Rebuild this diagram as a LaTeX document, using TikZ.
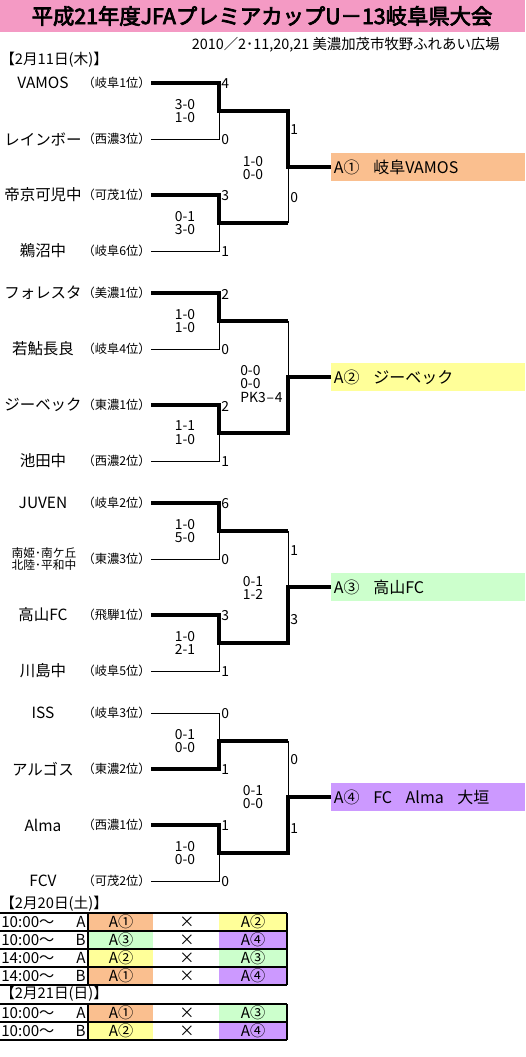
\documentclass[tikz,border=0pt]{standalone}
\usepackage{fontspec}
\setmainfont{Noto Sans CJK JP}
\newfontfamily\titlefont{Noto Sans CJK JP}[FakeBold=3.5]
\newcommand\fsz[1]{\fontsize{#1}{#1}\selectfont}
\definecolor{rosaband}{RGB}{244,154,196}
\definecolor{cOr}{RGB}{250,191,143}
\definecolor{cYe}{RGB}{255,255,153}
\definecolor{cGr}{RGB}{204,255,204}
\definecolor{cPu}{RGB}{204,153,255}
\tikzset{
  team/.style={font=\fsz{11.6}, inner sep=0pt},
  rank/.style={font=\fsz{9.2}, inner sep=0pt, anchor=east},
  goal/.style={font=\fsz{10.4}, inner sep=0pt, anchor=west},
  tally/.style={font=\fsz{10.4}, align=center, inner sep=0pt},
  win/.style={line width=2.5pt},
  lose/.style={line width=0.75pt},
  result/.style={anchor=west, minimum height=21pt, inner xsep=2pt, inner ysep=0pt,
    text width=141.5pt, align=left, font=\fsz{12}},
  day/.style={font=\fsz{11}, inner sep=0pt, anchor=west},
  cell/.style={font=\fsz{11.4}, inner sep=0pt},
  rule/.style={line width=0.9pt},
}
\begin{document}
\begin{tikzpicture}[x=0.75pt, y=-0.75pt]
  \useasboundingbox (0,0) rectangle (525,1057);
  % title band
  \fill[rosaband] (0,0) rectangle (525,32);
  \node[font=\titlefont\fsz{16}, inner sep=0pt] (title) at (262,16) {平成21年度JFAプレミアカップU－13岐阜県大会};
  \node[font=\fsz{10.8}, inner sep=0pt, anchor=east] (place) at (500,45) {2010／2･11,20,21 美濃加茂市牧野ふれあい広場};
  \node[day] (d11) at (0,60) {【2月11日(木)】};

  % block A1
  \node[team] (n11) at (43,83) {VAMOS};
  \node[team] (n12) at (43,139) {レインボー};
  \node[team] (n13) at (43,195) {帝京可児中};
  \node[team] (n14) at (43,251) {鵜沼中};
  \node[rank] (r11) at (151,83) {（岐阜1位）};
  \node[rank] (r12) at (151,139) {（西濃3位）};
  \node[rank] (r13) at (151,195) {（可茂1位）};
  \node[rank] (r14) at (151,251) {（岐阜6位）};
  \coordinate (s1a) at (219,111); \coordinate (s1b) at (219,223);
  \coordinate (f1a) at (288,111); \coordinate (f1) at (288,167); \coordinate (f1b) at (288,223);
  \node[result, fill=cOr] (w1) at (331,167) {A①\hspace{0.85em}岐阜VAMOS};
  \draw[win] (r11.east) -| (s1a) -- (f1a) -- (f1) -- (w1.west);
  \draw[lose] (r12.east) -| (s1a);
  \draw[win] (r13.east) -| (s1b) -- (f1b);
  \draw[lose] (r14.east) -| (s1b);
  \draw[lose] (f1b) -- (f1);
  \node[goal] (g11) at (221,84) {4};
  \node[goal] (g12) at (221,140) {0};
  \node[goal] (g13) at (221,196) {3};
  \node[goal] (g14) at (221,252) {1};
  \node[goal] (g1a) at (290,130) {1};
  \node[goal] (g1b) at (290,198) {0};
  \node[tally] (t1a) at (185,111) {3-0\\1-0};
  \node[tally] (t1b) at (185,223) {0-1\\3-0};
  \node[tally] (t1f) at (253,168) {1-0\\0-0};

  % block A2
  \node[team] (n21) at (43,293) {フォレスタ};
  \node[team] (n22) at (43,349) {若鮎長良};
  \node[team] (n23) at (43,405) {ジーベック};
  \node[team] (n24) at (43,461) {池田中};
  \node[rank] (r21) at (151,293) {（美濃1位）};
  \node[rank] (r22) at (151,349) {（岐阜4位）};
  \node[rank] (r23) at (151,405) {（東濃1位）};
  \node[rank] (r24) at (151,461) {（西濃2位）};
  \coordinate (s2a) at (219,321); \coordinate (s2b) at (219,433);
  \coordinate (f2a) at (288,321); \coordinate (f2) at (288,377); \coordinate (f2b) at (288,433);
  \node[result, fill=cYe] (w2) at (331,377) {A②\hspace{0.85em}ジーベック};
  \draw[win] (r21.east) -| (s2a) -- (f2a);
  \draw[lose] (r22.east) -| (s2a);
  \draw[win] (r23.east) -| (s2b) -- (f2b) -- (f2) -- (w2.west);
  \draw[lose] (r24.east) -| (s2b);
  \draw[lose] (f2a) -- (f2);
  \node[goal] (g21) at (221,294) {2};
  \node[goal] (g22) at (221,350) {0};
  \node[goal] (g23) at (221,406) {2};
  \node[goal] (g24) at (221,462) {1};
  \node[tally] (t2a) at (185,321) {1-0\\1-0};
  \node[tally] (t2b) at (185,433) {1-1\\1-0};
  \node[tally, align=left, anchor=west] (t2f) at (240,384) {0-0\\0-0\\PK3\hspace{0.06em}–\hspace{0.06em}4};

  % block A3
  \node[team] (n31) at (43,503) {JUVEN};
  \node[team, align=center, font=\fsz{8.8}] (n32) at (44,559) {南姫･南ケ丘\\北陸･平和中};
  \node[team] (n33) at (43,615) {高山FC};
  \node[team] (n34) at (43,671) {川島中};
  \node[rank] (r31) at (151,503) {（岐阜2位）};
  \node[rank] (r32) at (151,559) {（東濃3位）};
  \node[rank] (r33) at (151,615) {（飛騨1位）};
  \node[rank] (r34) at (151,671) {（岐阜5位）};
  \coordinate (s3a) at (219,531); \coordinate (s3b) at (219,643);
  \coordinate (f3a) at (288,531); \coordinate (f3) at (288,587); \coordinate (f3b) at (288,643);
  \node[result, fill=cGr] (w3) at (331,587) {A③\hspace{0.85em}高山FC};
  \draw[win] (r31.east) -| (s3a) -- (f3a);
  \draw[lose] (r32.east) -| (s3a);
  \draw[win] (r33.east) -| (s3b) -- (f3b) -- (f3) -- (w3.west);
  \draw[lose] (r34.east) -| (s3b);
  \draw[lose] (f3a) -- (f3);
  \node[goal] (g31) at (221,504) {6};
  \node[goal] (g32) at (221,560) {0};
  \node[goal] (g33) at (221,616) {3};
  \node[goal] (g34) at (221,672) {1};
  \node[goal] (g3a) at (290,551) {1};
  \node[goal] (g3b) at (290,620) {3};
  \node[tally] (t3a) at (185,531) {1-0\\5-0};
  \node[tally] (t3b) at (185,643) {1-0\\2-1};
  \node[tally] (t3f) at (253,588) {0-1\\1-2};

  % block A4
  \node[team] (n41) at (43,713) {ISS};
  \node[team] (n42) at (43,769) {アルゴス};
  \node[team] (n43) at (43,825) {Alma};
  \node[team] (n44) at (43,881) {FCV};
  \node[rank] (r41) at (151,713) {（岐阜3位）};
  \node[rank] (r42) at (151,769) {（東濃2位）};
  \node[rank] (r43) at (151,825) {（西濃1位）};
  \node[rank] (r44) at (151,881) {（可茂2位）};
  \coordinate (s4a) at (219,741); \coordinate (s4b) at (219,853);
  \coordinate (f4a) at (288,741); \coordinate (f4) at (288,797); \coordinate (f4b) at (288,853);
  \node[result, fill=cPu] (w4) at (331,797) {A④\hspace{0.85em}FC\hspace{0.85em}Alma\hspace{0.85em}大垣};
  \draw[lose] (r41.east) -| (s4a);
  \draw[win] (r42.east) -| (s4a) -- (f4a);
  \draw[win] (r43.east) -| (s4b) -- (f4b) -- (f4) -- (w4.west);
  \draw[lose] (r44.east) -| (s4b);
  \draw[lose] (f4a) -- (f4);
  \node[goal] (g41) at (221,714) {0};
  \node[goal] (g42) at (221,770) {1};
  \node[goal] (g43) at (221,826) {1};
  \node[goal] (g44) at (221,882) {0};
  \node[goal] (g4a) at (290,760) {0};
  \node[goal] (g4b) at (290,829) {1};
  \node[tally] (t4a) at (185,741) {0-1\\0-0};
  \node[tally] (t4b) at (185,853) {1-0\\0-0};
  \node[tally] (t4f) at (253,797) {0-1\\0-0};

  % league table, 20 Feb
  \node[day] (d20) at (0,904) {【2月20日(土)】};
  \fill[cOr] (88,913) rectangle (153,931);  \fill[cYe] (219,913) rectangle (287,931);
  \fill[cGr] (88,931) rectangle (153,949);  \fill[cPu] (219,931) rectangle (287,949);
  \fill[cYe] (88,949) rectangle (153,967);  \fill[cGr] (219,949) rectangle (287,967);
  \fill[cOr] (88,967) rectangle (153,985);  \fill[cPu] (219,967) rectangle (287,985);
  \draw[rule] (0,913) -- (287,913) (0,931) -- (287,931) (0,949) -- (287,949)
    (0,967) -- (287,967) (0,985) -- (287,985) (88,913) -- (88,985) (287,913) -- (287,985);
  \node[cell, anchor=west] (k1) at (1,922) {10:00～}; \node[cell, anchor=east] (c1) at (86,922) {A};
  \node[cell] (h1) at (121,922) {A①}; \node[cell] (v1) at (187,922) {×}; \node[cell] (a1) at (253,922) {A②};
  \node[cell, anchor=west] (k2) at (1,940) {10:00～}; \node[cell, anchor=east] (c2) at (86,940) {B};
  \node[cell] (h2) at (121,940) {A③}; \node[cell] (v2) at (187,940) {×}; \node[cell] (a2) at (253,940) {A④};
  \node[cell, anchor=west] (k3) at (1,958) {14:00～}; \node[cell, anchor=east] (c3) at (86,958) {A};
  \node[cell] (h3) at (121,958) {A②}; \node[cell] (v3) at (187,958) {×}; \node[cell] (a3) at (253,958) {A③};
  \node[cell, anchor=west] (k4) at (1,976) {14:00～}; \node[cell, anchor=east] (c4) at (86,976) {B};
  \node[cell] (h4) at (121,976) {A①}; \node[cell] (v4) at (187,976) {×}; \node[cell] (a4) at (253,976) {A④};

  % league table, 21 Feb
  \node[day] (d21) at (0,994) {【2月21日(日)】};
  \fill[cOr] (88,1004) rectangle (153,1022); \fill[cGr] (219,1004) rectangle (287,1022);
  \fill[cYe] (88,1022) rectangle (153,1040); \fill[cPu] (219,1022) rectangle (287,1040);
  \draw[rule] (0,1004) -- (287,1004) (0,1022) -- (287,1022) (0,1040) -- (287,1040)
    (88,1004) -- (88,1040) (287,1004) -- (287,1040);
  \node[cell, anchor=west] (k5) at (1,1013) {10:00～}; \node[cell, anchor=east] (c5) at (86,1013) {A};
  \node[cell] (h5) at (121,1013) {A①}; \node[cell] (v5) at (187,1013) {×}; \node[cell] (a5) at (253,1013) {A③};
  \node[cell, anchor=west] (k6) at (1,1031) {10:00～}; \node[cell, anchor=east] (c6) at (86,1031) {B};
  \node[cell] (h6) at (121,1031) {A②}; \node[cell] (v6) at (187,1031) {×}; \node[cell] (a6) at (253,1031) {A④};
\end{tikzpicture}
\end{document}
